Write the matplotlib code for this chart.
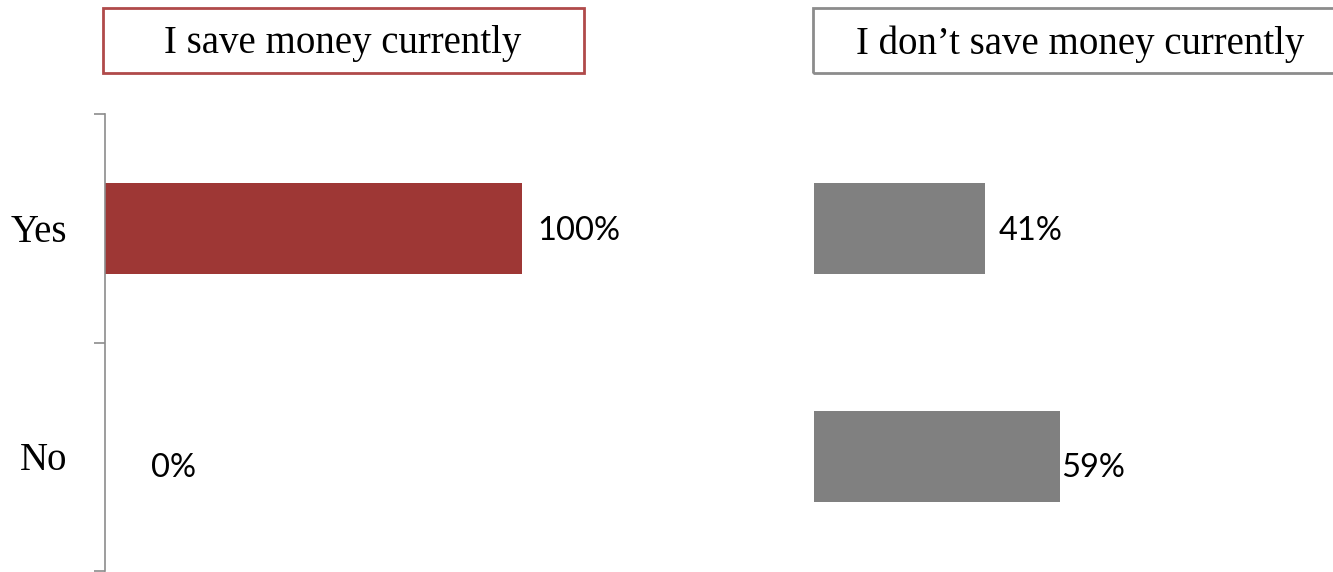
import matplotlib.pyplot as plt
from matplotlib.patches import Rectangle
from matplotlib.transforms import offset_copy

# survey answers, percent of respondents
answers = ["Yes", "No"]
savers = [100, 0]
non_savers = [41, 59]
panel_titles = ["I save money currently", "I don\u2019t save money currently"]

red = "#9E3735"
grey = "#808080"

W, H = 1333, 572
fig = plt.figure(figsize=(W / 100, H / 100), dpi=100)

def px_axes(x0, y0, x1, y1):
    # axes from pixel box (top-left origin)
    return fig.add_axes([x0 / W, 1 - y1 / H, (x1 - x0) / W, (y1 - y0) / H])

ax1 = px_axes(105, 114, 605, 571)
ax2 = px_axes(814, 114, 1314, 571)

serif = ["Liberation Serif", "DejaVu Serif"]
sans = ["Lato", "DejaVu Sans"]

# label gap after each bar (points) and vertical nudge
gaps = {id(ax1): [11, 33], id(ax2): [10, 1]}
nudge = [-2, -8]

for ax, vals, col in [(ax1, savers, red), (ax2, non_savers, grey)]:
    ypos = list(range(len(answers)))
    ax.barh(ypos, vals, height=0.4, color=col)
    ax.set_xlim(0, 120)
    ax.set_ylim(1.5, -0.5)
    for s in ["top", "right", "bottom"]:
        ax.spines[s].set_visible(False)
    ax.set_xticks([])
    for i, (y, v) in enumerate(zip(ypos, vals)):
        tr = offset_copy(ax.transData, fig=fig, x=gaps[id(ax)][i], y=nudge[i], units="points")
        ax.text(v, y, f"{v}%", va="center", ha="left", transform=tr,
                fontsize=23.5, family=sans, color="black")

ax1.spines["left"].set_color("#8C8C8C")
ax1.spines["left"].set_linewidth(1.2)
ax1.set_yticks([-0.5, 0.5, 1.5])
ax1.set_yticklabels([])
ax1.tick_params(axis="y", length=8, color="#8C8C8C", width=1.2)
for y, lab in enumerate(answers):
    tr = offset_copy(ax1.transData, fig=fig, x=-27, y=-3, units="points")
    ax1.text(0, y, lab, ha="right", va="center", transform=tr,
             fontsize=28, family=serif)

ax2.spines["left"].set_visible(False)
ax2.set_yticks([])

# boxed panel headers
boxes = [(103, 8, 584, 73, "#B04A4A", 343), (813, 8, 1345, 73, "#8C8C8C", 1080)]
for (x0, y0, x1, y1, ec, cx), title in zip(boxes, panel_titles):
    fig.patches.append(Rectangle((x0 / W, 1 - y1 / H), (x1 - x0) / W, (y1 - y0) / H,
                                 transform=fig.transFigure, fill=False,
                                 edgecolor=ec, linewidth=2))
    fig.text(cx / W, 1 - 44 / H, title, ha="center", va="center",
             fontsize=28, family=serif)

fig.savefig("out.png", dpi=100)
